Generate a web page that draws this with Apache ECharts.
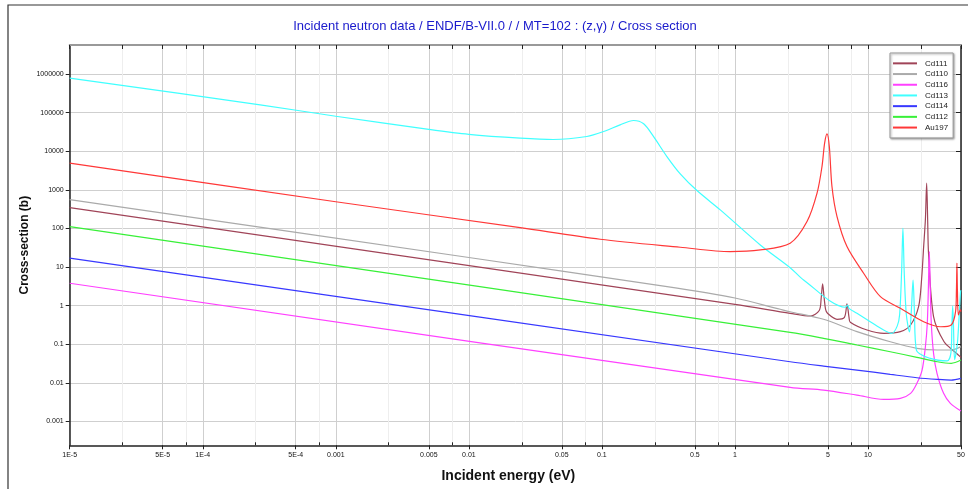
<!DOCTYPE html>
<html>
<head>
<meta charset="utf-8">
<title>MT=102 cross section</title>
<script src="https://cdn.jsdelivr.net/npm/echarts@6/dist/echarts.min.js"></script>
<style>
  html, body { margin: 0; padding: 0; background: #fff; }
  #chart { width: 968px; height: 489px; }
</style>
</head>
<body>
<div id="chart"></div>
<script>
// 能量范围 / 截面范围
const xMin = 1e-5, xMax = 50
const yMin = 2.415e-4, yMax = 5.67e6

// 刻度
const xMajor = [1e-5, 5e-5, 1e-4, 5e-4, 1e-3, 5e-3, 0.01, 0.05, 0.1, 0.5, 1, 5, 10, 50]
const xTickLabels = ['1E-5', '5E-5', '1E-4', '5E-4', '0.001', '0.005', '0.01', '0.05', '0.1', '0.5', '1', '5', '10', '50']
const xMinor = [2.5e-5, 7.5e-5, 2.5e-4, 7.5e-4, 2.5e-3, 7.5e-3, 0.025, 0.075, 0.25, 0.75, 2.5, 7.5, 25]
const yTicks = [0.001, 0.01, 0.1, 1, 10, 100, 1000, 10000, 100000, 1000000]
const yTickLabels = ['0.001', '0.01', '0.1', '1', '10', '100', '1000', '10000', '100000', '1000000']

// [E (eV), sigma (b)]
const cd111 = [[1e-5, 348], [1, 1.08], [2.6, 0.635], [3.68, 0.541], [4.3, 0.75], [4.45, 1.6], [4.56, 3.66], [4.68, 1.6],
  [4.8, 0.8], [4.96, 0.635], [5.85, 0.444], [6.65, 0.5], [6.95, 1.11], [7.2, 0.5], [7.36, 0.372], [9.84, 0.234],
  [13.2, 0.192], [17.5, 0.212], [20.9, 0.316], [24.0, 0.94], [25.3, 5], [26.2, 33.9], [27.0, 170], [27.6, 1490],
  [28.1, 150], [28.5, 22.9], [31.1, 0.519], [37.3, 0.116], [44.8, 0.0641], [50, 0.0459]]
const cd110 = [[1e-5, 561], [0.01, 17.7], [0.3, 3.15], [1, 1.58], [2.19, 0.807], [2.6, 0.698], [4.63, 0.444],
  [8.26, 0.212], [14.7, 0.116], [23.3, 0.0785], [33.2, 0.071], [42.2, 0.071], [50, 0.087]]
const cd116 = [[1e-5, 3.81], [2.6, 0.00766], [4.63, 0.00652], [8.26, 0.00483], [13.1, 0.00374], [17.5, 0.00397],
  [20.9, 0.00535], [23.3, 0.00973], [25.5, 0.0215], [27.0, 0.0865], [27.9, 0.35], [28.4, 2.5], [28.9, 25.1],
  [29.4, 2.5], [29.9, 0.35], [31.1, 0.0583], [33.0, 0.0177], [37.0, 0.00535], [41.6, 0.00294], [50, 0.00186]]
const cd113 = [[1e-5, 789000], [2.7e-4, 160000], [0.001, 81000], [0.005, 37000], [0.01, 27500], [0.0243, 21900],
  [0.043, 20200], [0.077, 24200], [0.103, 32500], [0.137, 48500], [0.173, 62800], [0.206, 51500], [0.244, 24200],
  [0.308, 7310], [0.388, 2600], [0.518, 960], [0.776, 303], [1.55, 37.5], [2.6, 9.66], [3.28, 4.63], [6.75, 0.91],
  [7.03, 1.04], [7.2, 0.85], [8.26, 0.635], [10.4, 0.385], [13.1, 0.234], [15.1, 0.192], [16.6, 0.3], [17.3, 0.6],
  [17.9, 8], [18.3, 101], [18.7, 8], [19.4, 0.6], [20.5, 0.21], [21.2, 0.8], [21.8, 4.6], [22.3, 0.8], [23.1, 0.071],
  [29.4, 0.043], [39.3, 0.037], [42.0, 0.06], [42.7, 0.3], [43.3, 0.98], [43.9, 0.3], [44.8, 0.04], [46.9, 0.1],
  [48.5, 0.6], [49.6, 2.3], [50, 2.5]]
const cd114 = [[1e-5, 17], [2.6, 0.0353], [4.63, 0.0273], [8.26, 0.0215], [14.7, 0.0166], [23.3, 0.0136],
  [33.2, 0.0123], [42.2, 0.0118], [50, 0.0131]]
const cd112 = [[1e-5, 112], [2.6, 0.204], [4.63, 0.143], [8.26, 0.0957], [14.7, 0.0641], [23.3, 0.0459],
  [33.2, 0.0353], [42.2, 0.0321], [50, 0.039]]
const au197 = [[1e-5, 4930], [0.001, 493], [0.0243, 105], [0.097, 52.7], [0.388, 32.7], [0.92, 25.1], [1.55, 27.8],
  [2.6, 41.5], [3.48, 151], [4.14, 822], [4.51, 4030], [4.72, 16300], [4.92, 28400], [5.12, 13300], [5.36, 1220],
  [5.85, 203], [6.95, 33.9], [9.27, 6.92], [12.4, 1.71], [17.5, 0.857], [26.2, 0.385], [35.2, 0.285], [42.2, 0.316],
  [45.5, 0.7], [46.2, 2.5], [46.6, 12.6], [47.0, 2.5], [47.8, 0.574], [49.5, 0.78], [50, 0.7]]

const seriesNames = ['Cd111', 'Cd110', 'Cd116', 'Cd113', 'Cd114', 'Cd112', 'Au197']
const seriesData = [cd111, cd110, cd116, cd113, cd114, cd112, au197]
const seriesColors = ['#a04458', '#aaaaaa', '#ff40ff', '#40ffff', '#3838ff', '#38f038', '#ff3838']

// 按对数找最近的刻度标签
function pickLabel(v, ticks, labels) {
  let best = 0
  for (let i = 1; i < ticks.length; i++) {
    if (Math.abs(Math.log10(ticks[i]) - Math.log10(v)) < Math.abs(Math.log10(ticks[best]) - Math.log10(v))) best = i
  }
  return labels[best]
}

const FONT = 'Liberation Sans, Arial, sans-serif'
const tickFont = { fontSize: 7, color: '#111', fontFamily: FONT }

const chart = echarts.init(document.getElementById('chart'), null, { renderer: 'canvas' })

chart.setOption({
  animation: false,
  backgroundColor: '#fff',
  title: {
    text: 'Incident neutron data / ENDF/B-VII.0 / / MT=102 : (z,γ) / Cross section',
    left: 490, top: 15, textAlign: 'center',
    textStyle: { fontSize: 13, fontWeight: 'normal', color: '#1a1acc', fontFamily: FONT }
  },
  // 外框
  graphic: [{
    type: 'rect', shape: { x: 8, y: 5, width: 980, height: 500 },
    style: { fill: null, stroke: '#333', lineWidth: 1.2 }, silent: true, z: 100
  }],
  legend: {
    orient: 'vertical', left: 890, top: 53,
    data: seriesNames.map(n => ({ name: n, icon: 'rect' })),
    itemWidth: 24, itemHeight: 2, itemGap: 0,
    padding: [5, 5, 5, 3],
    backgroundColor: '#fff', borderColor: '#999', borderWidth: 1,
    shadowColor: 'rgba(0,0,0,0.35)', shadowBlur: 2, shadowOffsetX: 1, shadowOffsetY: 1,
    textStyle: { fontSize: 8, color: '#222', fontFamily: FONT, lineHeight: 10.7, padding: [0, 0, 0, 3] }
  },
  grid: { left: 69.7, right: 7, top: 45, bottom: 43.7, containLabel: false },
  xAxis: [{
    type: 'log', position: 'bottom', min: xMin, max: xMax,
    name: 'Incident energy (eV)', nameLocation: 'middle', nameGap: 24,
    nameTextStyle: { fontSize: 14, fontWeight: 'bold', color: '#111', fontFamily: FONT, padding: [0, 14, 0, 0] },
    axisLine: { lineStyle: { color: '#222', width: 1.5 } },
    axisTick: { customValues: xMajor, length: 4, lineStyle: { color: '#222' } },
    axisLabel: { customValues: xMajor, margin: 6, ...tickFont, formatter: v => pickLabel(v, xMajor, xTickLabels) },
    splitLine: { show: true, lineStyle: { color: '#cfcfcf', width: 1 } }
  }, {
    // 次刻度 2.5 / 7.5
    type: 'log', position: 'bottom', min: xMin, max: xMax,
    axisLine: { show: false },
    axisTick: { customValues: xMinor, inside: true, length: 3, lineStyle: { color: '#222' } },
    axisLabel: { show: false },
    splitLine: { show: true, lineStyle: { color: '#eeeeee', width: 1 } }
  }, {
    type: 'log', position: 'top', min: xMin, max: xMax,
    axisLine: { lineStyle: { color: '#999', width: 2 } },
    axisTick: { customValues: xMajor.concat(xMinor), inside: true, length: 4, lineStyle: { color: '#222' } },
    axisLabel: { show: false },
    splitLine: { show: false }
  }],
  yAxis: [{
    type: 'log', position: 'left', min: yMin, max: yMax,
    name: 'Cross-section (b)', nameLocation: 'middle', nameGap: 39, nameRotate: 90, nameMoveOverlap: false,
    nameTextStyle: { fontSize: 12, fontWeight: 'bold', color: '#111', fontFamily: FONT },
    axisLine: { lineStyle: { color: '#222', width: 1.5 } },
    axisTick: { customValues: yTicks, length: 4, lineStyle: { color: '#222' } },
    axisLabel: { customValues: yTicks, margin: 6, ...tickFont, formatter: v => pickLabel(v, yTicks, yTickLabels) },
    splitLine: { show: true, lineStyle: { color: '#cfcfcf', width: 1 } }
  }, {
    type: 'log', position: 'right', min: yMin, max: yMax,
    axisLine: { lineStyle: { color: '#222', width: 1.5 } },
    axisTick: { customValues: yTicks, inside: true, length: 5, lineStyle: { color: '#222' } },
    axisLabel: { show: false },
    splitLine: { show: false }
  }],
  series: seriesNames.map((name, i) => ({
    name: name, type: 'line', xAxisIndex: 0, yAxisIndex: 0,
    data: seriesData[i], showSymbol: false, symbol: 'none',
    smooth: 0.3,
    lineStyle: { color: seriesColors[i], width: 1.2 },
    itemStyle: { color: seriesColors[i] },
    emphasis: { disabled: true }
  }))
})
</script>
</body>
</html>
